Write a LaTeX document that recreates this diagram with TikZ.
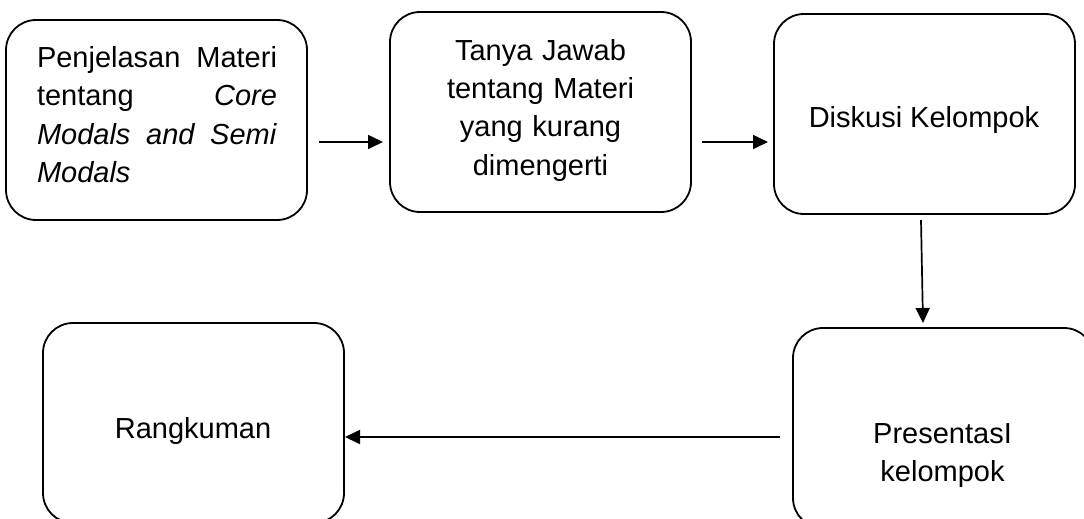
\documentclass[tikz,border=0pt]{standalone}
\usepackage{fontspec}
\setmainfont{Liberation Sans}
\usetikzlibrary{arrows.meta}
\begin{document}
\begin{tikzpicture}[x=1pt,y=-1pt,
  box/.style={draw,line width=1.8pt,rounded corners=30pt,
    minimum width=301pt,minimum height=200pt,inner sep=0pt},
  lbl/.style={font=\fontsize{29}{38.5}\selectfont,inner sep=0pt,anchor=base},
  flow/.style={line width=1.7pt,-{Triangle[length=15pt,width=14pt]}}]
\useasboundingbox (0,0) rectangle (1084,519);
\clip (0,0) rectangle (1084,519);

% boxes
\node[box] (b1) at (156.5,120) {};
\node[box] (b2) at (540.5,112) {};
\node[box] (b3) at (924.5,114) {};
\node[box] (b4) at (193.5,423) {};
\node[box] (b5) at (943.5,428) {};

% texts (anchored on the baseline of their first line)
\node[lbl,text width=240pt,align=left] (t1) at (157,67)
  {Penjelasan\hfill Materi\\
   tentang\hfill\textit{Core}\\
   \textit{Modals\hfill and\hfill Semi}\\
   \textit{Modals}};
\node[lbl,text width=280pt,align=center] (t2) at (540.5,60)
  {Tanya Jawab\\tentang Materi\\yang kurang\\dimengerti};
\node[lbl] (t3) at (924,127) {Diskusi Kelompok};
\node[lbl] (t4) at (193,438) {Rangkuman};
\node[lbl,text width=280pt,align=center] (t5) at (942.5,443)
  {PresentasI\\kelompok};

% connector ends
\coordinate (a1s) at (319,142);
\coordinate (a1e) at (383,142);
\coordinate (a2s) at (702,142);
\coordinate (a2e) at (768,142);
\coordinate (a3s) at (921,220);
\coordinate (a3e) at (923,323);
\coordinate (a4s) at (780,437);
\coordinate (a4e) at (345,437);

\draw[flow] (a1s) -- (a1e);
\draw[flow] (a2s) -- (a2e);
\draw[flow] (a3s) -- (a3e);
\draw[flow] (a4s) -- (a4e);
\end{tikzpicture}
\end{document}
